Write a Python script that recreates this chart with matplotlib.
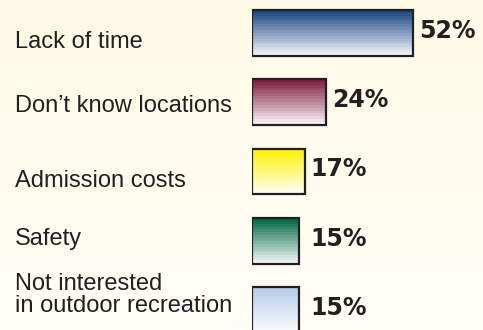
import numpy as np
import matplotlib
matplotlib.use("Agg")
import matplotlib.pyplot as plt
from matplotlib.colors import LinearSegmentedColormap
from matplotlib.patches import Rectangle

reasons = ["Lack of time", "Don\u2019t know locations", "Admission costs",
           "Safety", "Not interested\nin outdoor recreation"]
percent = [52, 24, 17, 15, 15]
top_colors = ["#1b4884", "#7d1f40", "#fff200", "#036a48", "#b6cdea"]
label_dy = [0.13, 0.05, 0.13, -0.02, -0.21]  # label nudges (in row units)

fig = plt.figure(figsize=(4.83, 3.30), dpi=100)

# cream background, slightly warmer at the top
bg = fig.add_axes([0, 0, 1, 1], zorder=0)
bg_cmap = LinearSegmentedColormap.from_list("bg", ["#fffae6", "#fffef7"])
bg.imshow(np.linspace(0, 1, 100).reshape(-1, 1), aspect="auto",
          cmap=bg_cmap, extent=[0, 1, 0, 1], origin="upper")
bg.axis("off")

ax = fig.add_axes([252 / 483, 0, 231 / 483, 1], zorder=1)
ax.set_facecolor("none")
ax.set_xlim(0, 231 / 3.1)
ax.set_ylim((330 - 33) / 69.25, -33 / 69.25)
ax.axis("off")

h = 0.664
steps = 16
for i, (p, c) in enumerate(zip(percent, top_colors)):
    cm = LinearSegmentedColormap.from_list("g%d" % i, [c, "#ffffff"])
    grad = np.floor(np.linspace(0, 1, 200) * steps) / steps
    ax.imshow(grad.reshape(-1, 1), aspect="auto", cmap=cm, vmin=0, vmax=1,
              extent=[0, p, i + h / 2, i - h / 2], origin="upper",
              interpolation="nearest", zorder=2)
    ax.add_patch(Rectangle((0, i - h / 2), p, h, fill=False,
                           edgecolor="#231f20", linewidth=1.6, zorder=3))
    ax.text(max(p, 17) + 1.8, i - 0.03, "%d%%" % p, ha="left", va="center",
            fontsize=17, fontweight="bold", family="DejaVu Sans",
            color="#231f20", zorder=4)

for i, r in enumerate(reasons):
    ax.text(-237 / 3.1, i + label_dy[i], r, ha="left", va="center",
            fontsize=17, family="Liberation Sans", color="#231f20",
            linespacing=1.0, clip_on=False)

fig.savefig("out.png", dpi=100)
